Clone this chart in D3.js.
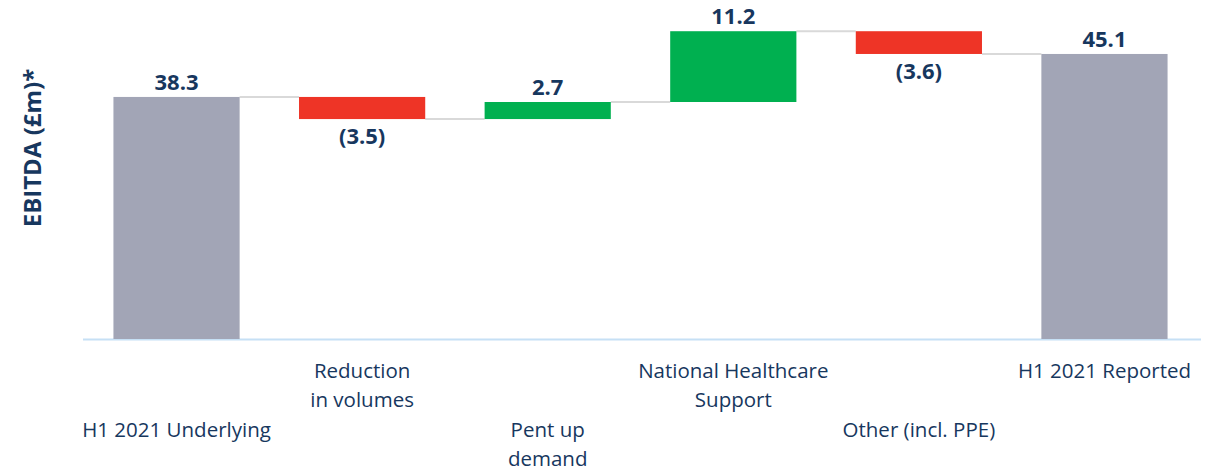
<!DOCTYPE html>
<html>
<head>
<meta charset="utf-8">
<script src="https://cdn.jsdelivr.net/npm/d3@7"></script>
<style>
  body { margin: 0; background: #fff; }
  svg text { font-family: "Open Sans", "Noto Sans", sans-serif; }
</style>
</head>
<body>
<svg></svg>
<script>
var width = 1218,
    height = 469

// data
var categories = ["H1 2021 Underlying", "Reduction in volumes", "Pent up demand", "National Healthcare Support", "Other (incl. PPE)", "H1 2021 Reported"]
var labelLines = [["H1 2021 Underlying"], ["Reduction", "in volumes"], ["Pent up", "demand"], ["National Healthcare", "Support"], ["Other (incl. PPE)"], ["H1 2021 Reported"]]
var labelRow = [2, 0, 2, 0, 2, 0]
var values = [38.3, -3.5, 2.7, 11.2, -3.6, 45.1]
var kinds = ["total", "delta", "delta", "delta", "delta", "total"]
var valueLabels = ["38.3", "(3.5)", "2.7", "11.2", "(3.6)", "45.1"]

var colors = {total: "#a2a5b6", up: "#00b050", down: "#ee3426"}
var navy = "#17375e"

var svg = d3.select("svg").attr("width", width).attr("height", height)

var x = d3.scaleBand().domain(categories).range([83, 1198]).paddingInner(0.32).paddingOuter(0.164)
var y = d3.scaleLinear().domain([0, 50]).range([339, 23])

// running totals
var run = 0
var data = categories.map(function(c, i) {
  var v = values[i], start, end
  if (kinds[i] == "total") { start = 0; end = v; run = v }
  else { start = run; end = run + v; run = end }
  return {cat: c, v: v, start: start, end: end, kind: kinds[i], label: valueLabels[i], i: i}
})

// connectors
for (var i = 0; i < data.length - 1; i++) {
  var lvl = data[i].end
  svg.append("line")
    .attr("x1", x(data[i].cat) + x.bandwidth())
    .attr("x2", x(data[i+1].cat))
    .attr("y1", y(lvl)).attr("y2", y(lvl))
    .attr("stroke", "#d9d9d9").attr("stroke-width", 2)
}

// baseline
svg.append("line")
  .attr("x1", 83).attr("x2", 1201)
  .attr("y1", y(0) + 0.5).attr("y2", y(0) + 0.5)
  .attr("stroke", "#c6e0f5").attr("stroke-width", 2)

svg.selectAll("rect.bar")
  .data(data)
  .enter().append("rect")
  .attr("class", "bar")
  .attr("x", function(d) { return x(d.cat) })
  .attr("width", x.bandwidth())
  .attr("y", function(d) { return y(Math.max(d.start, d.end)) })
  .attr("height", function(d) { return Math.abs(y(d.start) - y(d.end)) })
  .attr("fill", function(d) {
    if (d.kind == "total") return colors.total
    return d.v >= 0 ? colors.up : colors.down
  })

// value labels
svg.selectAll("text.val")
  .data(data)
  .enter().append("text")
  .attr("class", "val")
  .attr("x", function(d) { return x(d.cat) + x.bandwidth() / 2 })
  .attr("y", function(d) {
    if (d.v >= 0) return y(Math.max(d.start, d.end)) - 7
    return y(Math.min(d.start, d.end)) + 25
  })
  .attr("text-anchor", "middle")
  .attr("font-size", 22)
  .attr("font-weight", "bold")
  .attr("fill", navy)
  .text(function(d) { return d.label })

// category labels
data.forEach(function(d) {
  var t = svg.append("text")
    .attr("text-anchor", "middle")
    .attr("font-size", 20.5)
    .attr("fill", navy)
  labelLines[d.i].forEach(function(line, k) {
    t.append("tspan")
      .attr("x", x(d.cat) + x.bandwidth() / 2)
      .attr("y", 378 + (labelRow[d.i] + k) * 29.3)
      .text(line)
  })
})

// y title
svg.append("text")
  .attr("transform", "translate(41,148) rotate(-90)")
  .attr("text-anchor", "middle")
  .attr("font-size", 24)
  .attr("font-weight", "bold")
  .attr("fill", navy)
  .text("EBITDA (£m)*")
</script>
</body>
</html>
